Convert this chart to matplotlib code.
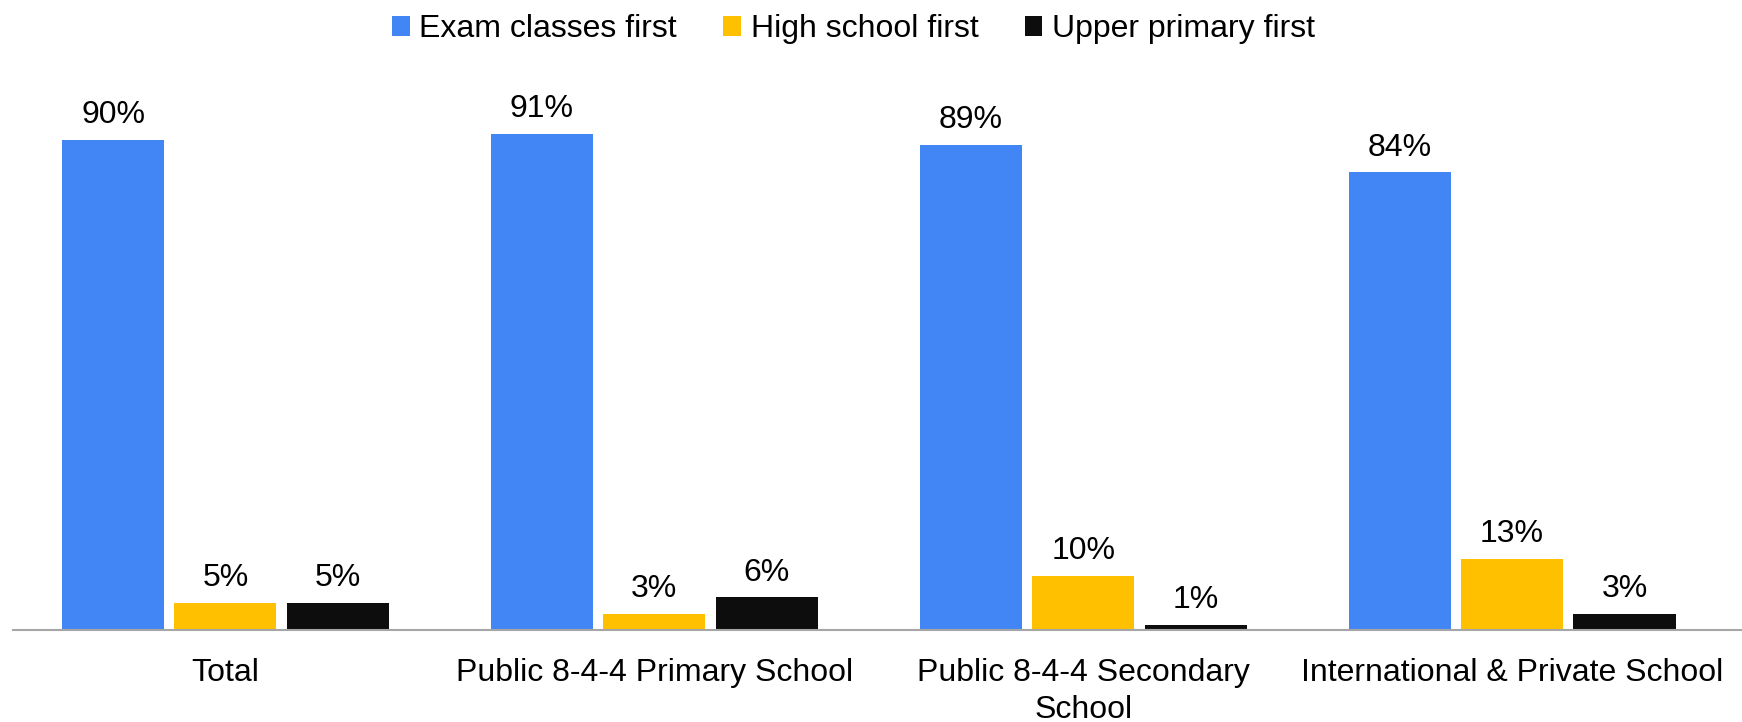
import matplotlib
matplotlib.use("Agg")
import matplotlib.pyplot as plt
import numpy as np

CATEGORIES = ["Total", "Public 8-4-4 Primary School", "Public 8-4-4 Secondary\nSchool",
              "International & Private School"]
SERIES = ["Exam classes first", "High school first", "Upper primary first"]
EXAM_FIRST = [90, 91, 89, 84]
HIGH_SCHOOL_FIRST = [5, 3, 10, 13]
UPPER_PRIMARY_FIRST = [5, 6, 1, 3]
COLORS = ["#4285F4", "#FFC000", "#0D0D0D"]

plt.rcParams["font.family"] = ["Liberation Sans", "DejaVu Sans"]

fig = plt.figure(figsize=(17.42, 7.22), dpi=100)
ax = fig.add_axes([0.0075, 0.1274, 0.9925, 0.76])

x = np.arange(len(CATEGORIES))
width = 0.238
offset = 0.262
for i, (vals, name, col) in enumerate(zip([EXAM_FIRST, HIGH_SCHOOL_FIRST, UPPER_PRIMARY_FIRST], SERIES, COLORS)):
    bars = ax.bar(x + (i - 1) * offset, vals, width, color=col, label=name)
    ax.bar_label(bars, labels=[f"{v}%" for v in vals], padding=7, fontsize=23)

ax.set_xlim(-0.495, 3.536)
ax.set_ylim(0, 100.7)
ax.set_xticks(x)
ax.set_xticklabels(CATEGORIES, fontsize=23, linespacing=1.3)
ax.tick_params(axis="x", length=0, pad=20)
ax.set_yticks([])
for s in ["top", "right", "left"]:
    ax.spines[s].set_visible(False)
ax.spines["bottom"].set_color("#A6A6A6")
ax.spines["bottom"].set_linewidth(1.5)

fig.legend(loc="upper center", bbox_to_anchor=(0.49, 1.02), ncol=3, frameon=False,
           fontsize=23, handlelength=0.55, handleheight=0.55, handletextpad=0.3,
           columnspacing=1.45)

fig.savefig("out.png", dpi=100)
plt.close(fig)
